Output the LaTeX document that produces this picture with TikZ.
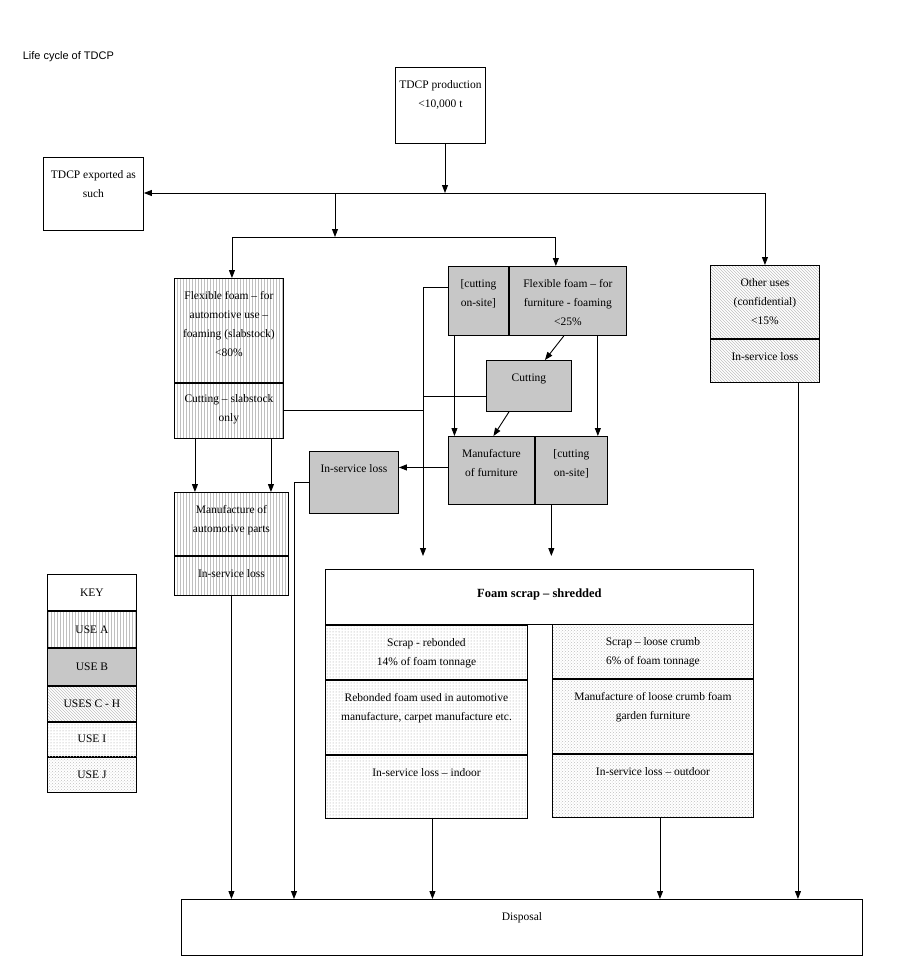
\documentclass[tikz,border=0pt]{standalone}
\usepackage{fontspec}
\setmainfont{Liberation Serif}
\setsansfont{Liberation Sans}
\usetikzlibrary{arrows.meta,patterns}

\begin{document}
\begin{tikzpicture}[x=1pt,y=-1pt,->,>={Stealth[inset=0pt,length=8pt,width=6pt]},
                    line width=0.9pt,font=\fontsize{11.5}{19}\selectfont]
  \tikzstyle{box}=[draw,rectangle,anchor=north west,inner sep=0pt]
  \tikzstyle{usea}=[box,pattern=vertical lines,pattern color=black!25]
  \tikzstyle{useb}=[box,fill=black!22]
  \tikzstyle{usech}=[box,pattern=north west lines,pattern color=black!25]
  \tikzstyle{usei}=[box,pattern=dots,pattern color=black!40]
  \tikzstyle{usej}=[box,pattern=crosshatch dots,pattern color=black!25]
  \tikzstyle{txt}=[anchor=north,align=center,inner sep=0pt,yshift=-13pt]

  \useasboundingbox (0,0) rectangle (897,971);

  \node[anchor=west,font=\sffamily\fontsize{11}{13}\selectfont] (title) at (19,57) {Life cycle of TDCP};

  % top of the chain
  \node[box,minimum width=90pt,minimum height=76pt] (prod) at (395,67) {};
  \node[txt] (prodtext) at (prod.north) {TDCP production\\<10,000 t};
  \node[box,minimum width=100pt,minimum height=73pt] (export) at (43,157) {};
  \node[txt] (exporttext) at (export.north) {TDCP exported as\\such};

  % use A
  \node[usea,minimum width=109pt,minimum height=104pt] (autofoam) at (174,278) {};
  \node[usea,minimum width=109pt,minimum height=55pt] (autocut) at (autofoam.south west) {};
  \node[usea,minimum width=114pt,minimum height=63pt] (autopart) at (174,492) {};
  \node[usea,minimum width=114pt,minimum height=39pt] (autoloss) at (autopart.south west) {};
  \node[txt] (autofoamtext) at (autofoam.north) {Flexible foam -- for\\automotive use --\\foaming (slabstock)\\<80\%};
  \node[txt,yshift=2pt] (autocuttext) at (autocut.north) {Cutting -- slabstock\\only};
  \node[txt] (autoparttext) at (autopart.north) {Manufacture of\\automotive parts};
  \node[txt] (autolosstext) at (autoloss.north) {In-service loss};

  % use B
  \node[useb,minimum width=60pt,minimum height=69pt] (furncut) at (448,266) {};
  \node[useb,minimum width=117pt,minimum height=69pt] (furnfoam) at (furncut.north east) {};
  \node[useb,minimum width=85pt,minimum height=51pt] (cutbox) at (486,360) {};
  \node[useb,minimum width=86pt,minimum height=68pt] (furnmake) at (448,436) {};
  \node[useb,minimum width=72pt,minimum height=68pt] (furnsite) at (furnmake.north east) {};
  \node[useb,minimum width=89pt,minimum height=62pt] (furnloss) at (309,451) {};
  \node[txt] (furncuttext) at (furncut.north) {[cutting\\on-site]};
  \node[txt] (furnfoamtext) at (furnfoam.north) {Flexible foam -- for\\furniture - foaming\\<25\%};
  \node[txt] (cutboxtext) at (cutbox.north) {Cutting};
  \node[txt] (furnmaketext) at (furnmake.north) {Manufacture\\of furniture};
  \node[txt] (furnsitetext) at (furnsite.north) {[cutting\\on-site]};
  \node[txt] (furnlosstext) at (furnloss.north) {In-service loss};

  % uses C - H
  \node[usech,minimum width=109pt,minimum height=73pt] (other) at (710,265) {};
  \node[usech,minimum width=109pt,minimum height=43pt] (otherloss) at (other.south west) {};
  \node[txt] (othertext) at (other.north) {Other uses\\(confidential)\\<15\%};
  \node[txt] (otherlosstext) at (otherloss.north) {In-service loss};

  % foam scrap, uses I and J
  \node[box,minimum width=428pt,minimum height=55pt] (scraphead) at (325,569) {};
  \node[txt,yshift=-6pt,font=\bfseries\fontsize{12.5}{15}\selectfont] (scrapheadtext) at (scraphead.north) {Foam scrap -- shredded};
  \node[usei,minimum width=202pt,minimum height=54pt] (rebond) at (scraphead.south west) {};
  \node[usei,minimum width=202pt,minimum height=74pt] (rebuse) at (rebond.south west) {};
  \node[usei,minimum width=202pt,minimum height=63pt] (rebloss) at (rebuse.south west) {};
  \node[usej,minimum width=201pt,minimum height=54pt] (crumb) at (552,624) {};
  \node[usej,minimum width=201pt,minimum height=74pt] (crumbuse) at (crumb.south west) {};
  \node[usej,minimum width=201pt,minimum height=63pt] (crumbloss) at (crumbuse.south west) {};
  \node[txt] (rebondtext) at (rebond.north) {Scrap - rebonded\\14\% of foam tonnage};
  \node[txt] (rebusetext) at (rebuse.north) {Rebonded foam used in automotive\\manufacture, carpet manufacture etc.};
  \node[txt] (reblosstext) at (rebloss.north) {In-service loss -- indoor};
  \node[txt] (crumbtext) at (crumb.north) {Scrap -- loose crumb\\6\% of foam tonnage};
  \node[txt] (crumbusetext) at (crumbuse.north) {Manufacture of loose crumb foam\\garden furniture};
  \node[txt] (crumblosstext) at (crumbloss.north) {In-service loss -- outdoor};

  \node[box,minimum width=681pt,minimum height=56pt] (disposal) at (181,899) {};
  \node[txt] (disposaltext) at (disposal.north) {Disposal};

  % key
  \node[box,minimum width=89pt,minimum height=36pt] (key) at (47,574) {KEY};
  \node[usea,minimum width=89pt,minimum height=36pt] (keya) at (key.south west) {USE A};
  \node[useb,minimum width=89pt,minimum height=37pt] (keyb) at (keya.south west) {USE B};
  \node[usech,minimum width=89pt,minimum height=35pt] (keych) at (keyb.south west) {USES C - H};
  \node[usei,minimum width=89pt,minimum height=34pt] (keyi) at (keych.south west) {USE I};
  \node[usej,minimum width=89pt,minimum height=35pt] (keyj) at (keyi.south west) {USE J};

  % flows
  \coordinate (hub) at (445,193);
  \coordinate (fork) at (335,237);
  \coordinate (vtop) at (423,287);
  \coordinate (vend) at (423,556);
  \coordinate (lossturn) at ([xshift=-15pt]furnloss.west);

  \draw (hub |- prod.south) -- (hub);
  \draw[-] (hub) -- (hub -| other.north);
  \draw (hub -| other.north) -- (other.north);
  \draw (hub) -- (hub -| export.east);
  \draw (fork |- hub) -- (fork);
  \draw (fork) -| ([xshift=3pt]autofoam.north);
  \draw (fork) -| ([xshift=-12pt]furnfoam.north);

  \draw ([xshift=-34pt]autocut.south) -- ([xshift=-34pt]autocut.south |- autopart.north);
  \draw ([xshift=42pt]autocut.south) -- ([xshift=42pt]autocut.south |- autopart.north);
  \draw[-] (autocut.east) -- (autocut.east -| vtop);
  \draw (furncut.west |- vtop) -- (vtop) -- (vend);
  \draw[-] ([yshift=-10pt]cutbox.west) -- ([yshift=-10pt]cutbox.west -| vtop);

  \draw ([xshift=-4pt]furnfoam.south) -- ([xshift=16pt]cutbox.north);
  \draw ([xshift=-20pt]cutbox.south) -- ([xshift=2pt]furnmake.north);
  \draw ([xshift=-24pt]furncut.south) -- ([xshift=-24pt]furncut.south |- furnmake.north);
  \draw ([xshift=30pt]furnfoam.south) -- ([xshift=30pt]furnfoam.south |- furnsite.north);
  \draw ([yshift=3pt]furnmake.west) -- ([yshift=3pt]furnmake.west -| furnloss.east);
  \draw ([xshift=-20pt]furnsite.south) -- ([xshift=-20pt]furnsite.south |- vend);

  \draw (autoloss.south) -- (autoloss.south |- disposal.north);
  \draw (furnloss.west) -- (lossturn) -- (lossturn |- disposal.north);
  \draw ([xshift=6pt]rebloss.south) -- ([xshift=6pt]rebloss.south |- disposal.north);
  \draw ([xshift=7pt]crumbloss.south) -- ([xshift=7pt]crumbloss.south |- disposal.north);
  \draw ([xshift=33pt]otherloss.south) -- ([xshift=33pt]otherloss.south |- disposal.north);
\end{tikzpicture}
\end{document}
